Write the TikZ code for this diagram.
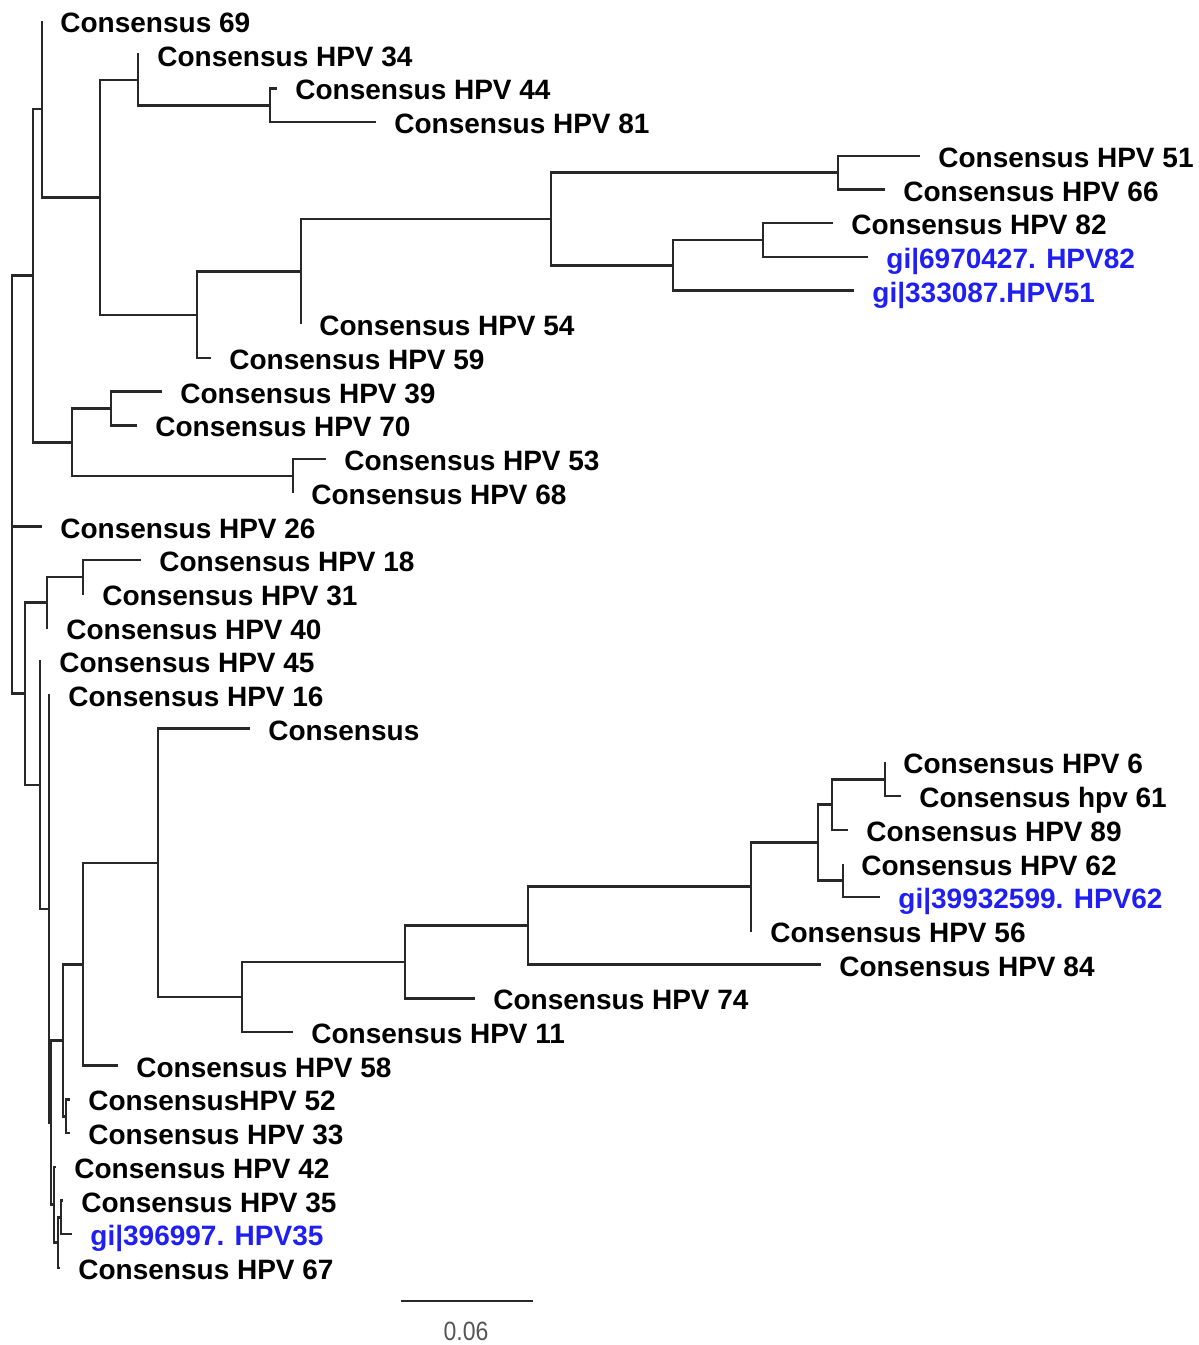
\documentclass[tikz,border=0pt]{standalone}
\usepackage{fontspec}
\setmainfont{Liberation Sans}
\definecolor{gblue}{RGB}{30,30,245}
\definecolor{brc}{RGB}{40,40,40}
\definecolor{sgray}{RGB}{85,85,85}
\begin{document}
\begin{tikzpicture}[x=0.5pt,y=-0.5pt,
 br/.style={draw=brc, line width=1.25pt},
 lab/.style={anchor=base west, inner sep=0pt, xshift=9pt, yshift=-5.75pt, font=\fontsize{14}{16}\selectfont\bfseries, text=black},
 glab/.style={lab, text=gblue}]
\useasboundingbox (0,0) rectangle (1199,1345);
% leaves
\coordinate (L69) at (42,21.0);
\coordinate (L34) at (139,54.7);
\coordinate (L44) at (277,88.4);
\coordinate (L81) at (376,122.1);
\coordinate (L51) at (920,155.8);
\coordinate (L66) at (885,189.5);
\coordinate (L82) at (833,223.2);
\coordinate (Lg82) at (868,256.9);
\coordinate (Lg51) at (854,290.6);
\coordinate (L54) at (301,324.3);
\coordinate (L59) at (211,358.0);
\coordinate (L39) at (162,391.7);
\coordinate (L70) at (137,425.4);
\coordinate (L53) at (326,459.1);
\coordinate (L68) at (293,492.8);
\coordinate (L26) at (42,526.5);
\coordinate (L18) at (141,560.2);
\coordinate (L31) at (84,593.9);
\coordinate (L40) at (48,627.6);
\coordinate (L45) at (41,661.3);
\coordinate (L16) at (50,695.0);
\coordinate (LC) at (250,728.7);
\coordinate (L6) at (885,762.4);
\coordinate (L61) at (901,796.1);
\coordinate (L89) at (848,829.8);
\coordinate (L62) at (843,863.5);
\coordinate (Lg62) at (880,897.2);
\coordinate (L56) at (752,930.9);
\coordinate (L84) at (821,964.6);
\coordinate (L74) at (475,998.3);
\coordinate (L11) at (293,1032.0);
\coordinate (L58) at (118,1065.7);
\coordinate (L52) at (70,1099.4);
\coordinate (L33) at (70,1133.1);
\coordinate (L42) at (56,1166.8);
\coordinate (L35) at (63,1200.5);
\coordinate (Lg35) at (72,1234.2);
\coordinate (L67) at (60,1267.9);
% internal nodes
\coordinate (n270) at (270,105.25);
\coordinate (n138) at (138,79.98);
\coordinate (n763) at (763,240.05);
\coordinate (n673) at (673,265.3);
\coordinate (n838) at (838,172.65);
\coordinate (n551) at (551,218.98);
\coordinate (n301) at (301,271.6);
\coordinate (n197) at (197,314.8);
\coordinate (n100) at (100,197.4);
\coordinate (n42) at (42,109.2);
\coordinate (n111) at (111,408.55);
\coordinate (n293) at (293,475.95);
\coordinate (n72) at (72,442.25);
\coordinate (n33) at (33,275.7);
\coordinate (n83a) at (83,577.05);
\coordinate (n47) at (47,602.3);
\coordinate (n885) at (885,779.25);
\coordinate (n832) at (832,804.5);
\coordinate (n843) at (843,880.35);
\coordinate (n818) at (818,842.4);
\coordinate (n751) at (751,886.65);
\coordinate (n528) at (528,925.6);
\coordinate (n405) at (405,961.95);
\coordinate (n242) at (242,996.98);
\coordinate (n158) at (158,862.84);
\coordinate (n83b) at (83,964.27);
\coordinate (n66) at (66,1116.25);
\coordinate (n63) at (63,1040.26);
\coordinate (nF) at (61,1217.35);
\coordinate (nE) at (58,1242.6);
\coordinate (nD) at (54,1204.7);
\coordinate (nB) at (51,1122.5);
\coordinate (nA) at (49,908.75);
\coordinate (n40) at (40,785.0);
\coordinate (n25) at (25,693.65);
\coordinate (R) at (12,526.5);
% branches
\draw[br] (R) |- (n33);  \draw[br] (R) |- (L26);  \draw[br] (R) |- (n25);
\draw[br] (n33) |- (n42); \draw[br] (n33) |- (n72);
\draw[br] (n42) |- (L69); \draw[br] (n42) |- (n100);
\draw[br] (n100) |- (n138); \draw[br] (n100) |- (n197);
\draw[br] (n138) |- (L34); \draw[br] (n138) |- (n270);
\draw[br] (n270) |- (L44); \draw[br] (n270) |- (L81);
\draw[br] (n197) |- (n301); \draw[br] (n197) |- (L59);
\draw[br] (n301) |- (n551); \draw[br] (n301) |- (L54);
\draw[br] (n551) |- (n838); \draw[br] (n551) |- (n673);
\draw[br] (n838) |- (L51); \draw[br] (n838) |- (L66);
\draw[br] (n673) |- (n763); \draw[br] (n673) |- (Lg51);
\draw[br] (n763) |- (L82); \draw[br] (n763) |- (Lg82);
\draw[br] (n72) |- (n111); \draw[br] (n72) |- (n293);
\draw[br] (n111) |- (L39); \draw[br] (n111) |- (L70);
\draw[br] (n293) |- (L53); \draw[br] (n293) |- (L68);
\draw[br] (n25) |- (n47); \draw[br] (n25) |- (n40);
\draw[br] (n47) |- (n83a); \draw[br] (n47) |- (L40);
\draw[br] (n83a) |- (L18); \draw[br] (n83a) |- (L31);
\draw[br] (n40) |- (L45); \draw[br] (n40) |- (nA);
\draw[br] (nA) |- (L16); \draw[br] (nA) |- (nB);
\draw[br] (nB) |- (n63); \draw[br] (nB) |- (nD);
\draw[br] (n63) |- (n83b); \draw[br] (n63) |- (n66);
\draw[br] (n83b) |- (n158); \draw[br] (n83b) |- (L58);
\draw[br] (n158) |- (LC); \draw[br] (n158) |- (n242);
\draw[br] (n242) |- (n405); \draw[br] (n242) |- (L11);
\draw[br] (n405) |- (n528); \draw[br] (n405) |- (L74);
\draw[br] (n528) |- (n751); \draw[br] (n528) |- (L84);
\draw[br] (n751) |- (n818); \draw[br] (n751) |- (L56);
\draw[br] (n818) |- (n832); \draw[br] (n818) |- (n843);
\draw[br] (n832) |- (n885); \draw[br] (n832) |- (L89);
\draw[br] (n885) |- (L6); \draw[br] (n885) |- (L61);
\draw[br] (n843) |- (L62); \draw[br] (n843) |- (Lg62);
\draw[br] (n66) |- (L52); \draw[br] (n66) |- (L33);
\draw[br] (nD) |- (L42); \draw[br] (nD) |- (nE);
\draw[br] (nE) |- (nF); \draw[br] (nE) |- (L67);
\draw[br] (nF) |- (L35); \draw[br] (nF) |- (Lg35);
% labels
\node[lab] (t69) at (L69) {Consensus 69};
\node[lab] (t34) at (L34) {Consensus HPV 34};
\node[lab] (t44) at (L44) {Consensus HPV 44};
\node[lab] (t81) at (L81) {Consensus HPV 81};
\node[lab] (t51) at (L51) {Consensus HPV 51};
\node[lab] (t66) at (L66) {Consensus HPV 66};
\node[lab] (t82) at (L82) {Consensus HPV 82};
\node[glab] (tg82) at (Lg82) {gi|6970427. HPV82};
\node[glab] (tg51) at (Lg51) {gi|333087.HPV51};
\node[lab] (t54) at (L54) {Consensus HPV 54};
\node[lab] (t59) at (L59) {Consensus HPV 59};
\node[lab] (t39) at (L39) {Consensus HPV 39};
\node[lab] (t70) at (L70) {Consensus HPV 70};
\node[lab] (t53) at (L53) {Consensus HPV 53};
\node[lab] (t68) at (L68) {Consensus HPV 68};
\node[lab] (t26) at (L26) {Consensus HPV 26};
\node[lab] (t18) at (L18) {Consensus HPV 18};
\node[lab] (t31) at (L31) {Consensus HPV 31};
\node[lab] (t40) at (L40) {Consensus HPV 40};
\node[lab] (t45) at (L45) {Consensus HPV 45};
\node[lab] (t16) at (L16) {Consensus HPV 16};
\node[lab] (tC) at (LC) {Consensus};
\node[lab] (t6) at (L6) {Consensus HPV 6};
\node[lab] (t61) at (L61) {Consensus hpv 61};
\node[lab] (t89) at (L89) {Consensus HPV 89};
\node[lab] (t62) at (L62) {Consensus HPV 62};
\node[glab] (tg62) at (Lg62) {gi|39932599. HPV62};
\node[lab] (t56) at (L56) {Consensus HPV 56};
\node[lab] (t84) at (L84) {Consensus HPV 84};
\node[lab] (t74) at (L74) {Consensus HPV 74};
\node[lab] (t11) at (L11) {Consensus HPV 11};
\node[lab] (t58) at (L58) {Consensus HPV 58};
\node[lab] (t52) at (L52) {ConsensusHPV 52};
\node[lab] (t33) at (L33) {Consensus HPV 33};
\node[lab] (t42) at (L42) {Consensus HPV 42};
\node[lab] (t35) at (L35) {Consensus HPV 35};
\node[glab] (tg35) at (Lg35) {gi|396997. HPV35};
\node[lab] (t67) at (L67) {Consensus HPV 67};
% scale bar
\coordinate (s1) at (401,1301);
\coordinate (s2) at (533,1301);
\draw[draw=brc, line width=1.4pt] (s1) -- (s2);
\node[inner sep=0pt, text=sgray, font=\fontsize{11.5}{13}\selectfont] (sl) at (466,1331) {\scalebox{1}[1.15]{0.06}};
\end{tikzpicture}
\end{document}
